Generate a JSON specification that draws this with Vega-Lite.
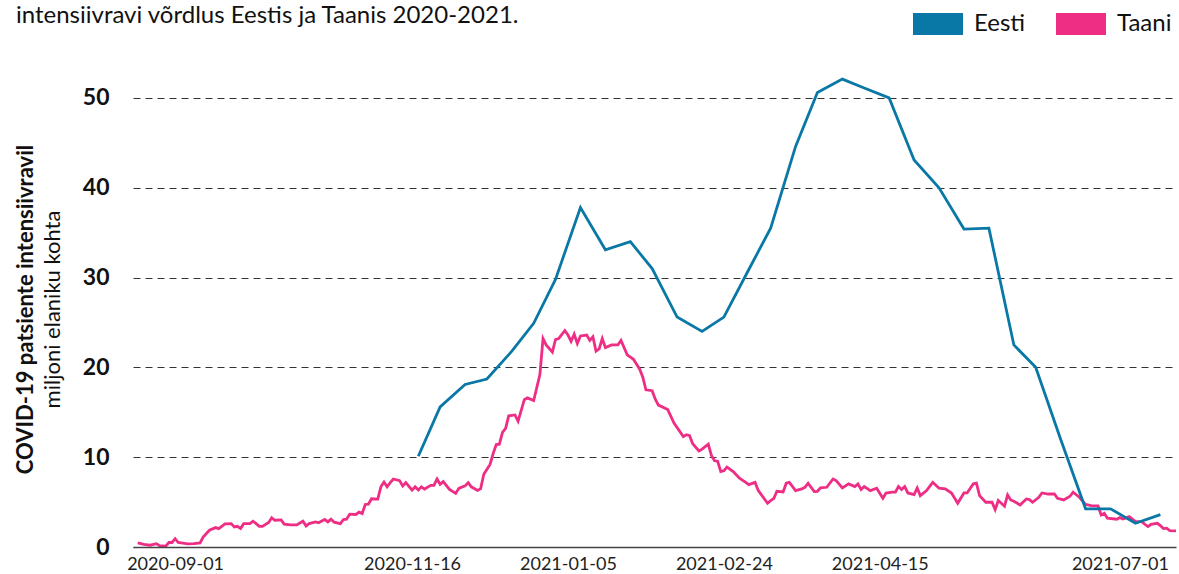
{
  "$schema": "https://vega.github.io/schema/vega-lite/v6.json",
  "width": 1043,
  "height": 476,
  "autosize": {"type": "none"},
  "padding": {"left": 133, "top": 71, "right": 3, "bottom": 27},
  "background": "#ffffff",
  "config": {"view": {"stroke": null}, "font": "Lato"},
  "title": {"text": "intensiivravi võrdlus Eestis ja Taanis 2020-2021.", "anchor": "start", "frame": "group", "baseline": "alphabetic", "fontSize": 24, "font": "Lato", "fontWeight": "normal", "color": "#111111", "offset": 0, "dx": -117, "dy": 48},
  "data": {"values": [
    {"date": "2020-08-20", "country": "Taani", "value": 0.45},
    {"date": "2020-08-22", "country": "Taani", "value": 0.3},
    {"date": "2020-08-24", "country": "Taani", "value": 0.2},
    {"date": "2020-08-26", "country": "Taani", "value": 0.37},
    {"date": "2020-08-27", "country": "Taani", "value": 0.15},
    {"date": "2020-08-29", "country": "Taani", "value": 0.1},
    {"date": "2020-08-30", "country": "Taani", "value": 0.5},
    {"date": "2020-08-31", "country": "Taani", "value": 0.5},
    {"date": "2020-09-01", "country": "Taani", "value": 0.93},
    {"date": "2020-09-02", "country": "Taani", "value": 0.5},
    {"date": "2020-09-03", "country": "Taani", "value": 0.45},
    {"date": "2020-09-05", "country": "Taani", "value": 0.34},
    {"date": "2020-09-07", "country": "Taani", "value": 0.37},
    {"date": "2020-09-09", "country": "Taani", "value": 0.45},
    {"date": "2020-09-10", "country": "Taani", "value": 1.1},
    {"date": "2020-09-12", "country": "Taani", "value": 1.87},
    {"date": "2020-09-14", "country": "Taani", "value": 2.16},
    {"date": "2020-09-15", "country": "Taani", "value": 2.05},
    {"date": "2020-09-17", "country": "Taani", "value": 2.57},
    {"date": "2020-09-19", "country": "Taani", "value": 2.6},
    {"date": "2020-09-20", "country": "Taani", "value": 2.24},
    {"date": "2020-09-21", "country": "Taani", "value": 2.3},
    {"date": "2020-09-22", "country": "Taani", "value": 2.05},
    {"date": "2020-09-23", "country": "Taani", "value": 2.6},
    {"date": "2020-09-25", "country": "Taani", "value": 2.6},
    {"date": "2020-09-26", "country": "Taani", "value": 2.87},
    {"date": "2020-09-27", "country": "Taani", "value": 2.6},
    {"date": "2020-09-28", "country": "Taani", "value": 2.3},
    {"date": "2020-09-29", "country": "Taani", "value": 2.3},
    {"date": "2020-10-01", "country": "Taani", "value": 2.72},
    {"date": "2020-10-02", "country": "Taani", "value": 3.25},
    {"date": "2020-10-03", "country": "Taani", "value": 2.98},
    {"date": "2020-10-05", "country": "Taani", "value": 3.02},
    {"date": "2020-10-06", "country": "Taani", "value": 2.54},
    {"date": "2020-10-08", "country": "Taani", "value": 2.46},
    {"date": "2020-10-10", "country": "Taani", "value": 2.46},
    {"date": "2020-10-12", "country": "Taani", "value": 2.87},
    {"date": "2020-10-13", "country": "Taani", "value": 2.35},
    {"date": "2020-10-14", "country": "Taani", "value": 2.6},
    {"date": "2020-10-16", "country": "Taani", "value": 2.8},
    {"date": "2020-10-17", "country": "Taani", "value": 2.69},
    {"date": "2020-10-19", "country": "Taani", "value": 3.06},
    {"date": "2020-10-20", "country": "Taani", "value": 2.8},
    {"date": "2020-10-21", "country": "Taani", "value": 3.1},
    {"date": "2020-10-22", "country": "Taani", "value": 2.76},
    {"date": "2020-10-24", "country": "Taani", "value": 2.6},
    {"date": "2020-10-25", "country": "Taani", "value": 3.06},
    {"date": "2020-10-26", "country": "Taani", "value": 3.1},
    {"date": "2020-10-27", "country": "Taani", "value": 3.66},
    {"date": "2020-10-29", "country": "Taani", "value": 3.62},
    {"date": "2020-10-30", "country": "Taani", "value": 3.88},
    {"date": "2020-10-31", "country": "Taani", "value": 3.73},
    {"date": "2020-11-01", "country": "Taani", "value": 4.74},
    {"date": "2020-11-02", "country": "Taani", "value": 4.78},
    {"date": "2020-11-03", "country": "Taani", "value": 5.37},
    {"date": "2020-11-05", "country": "Taani", "value": 5.34},
    {"date": "2020-11-06", "country": "Taani", "value": 6.7},
    {"date": "2020-11-07", "country": "Taani", "value": 7.24},
    {"date": "2020-11-08", "country": "Taani", "value": 6.7},
    {"date": "2020-11-09", "country": "Taani", "value": 7.16},
    {"date": "2020-11-10", "country": "Taani", "value": 7.57},
    {"date": "2020-11-12", "country": "Taani", "value": 7.39},
    {"date": "2020-11-13", "country": "Taani", "value": 6.8},
    {"date": "2020-11-14", "country": "Taani", "value": 7.16},
    {"date": "2020-11-16", "country": "Taani", "value": 6.34},
    {"date": "2020-11-17", "country": "Taani", "value": 6.7},
    {"date": "2020-11-18", "country": "Taani", "value": 6.34},
    {"date": "2020-11-19", "country": "Taani", "value": 6.7},
    {"date": "2020-11-20", "country": "Taani", "value": 6.45},
    {"date": "2020-11-22", "country": "Taani", "value": 6.87},
    {"date": "2020-11-23", "country": "Taani", "value": 6.87},
    {"date": "2020-11-24", "country": "Taani", "value": 7.57},
    {"date": "2020-11-25", "country": "Taani", "value": 6.98},
    {"date": "2020-11-26", "country": "Taani", "value": 7.28},
    {"date": "2020-11-28", "country": "Taani", "value": 6.42},
    {"date": "2020-11-30", "country": "Taani", "value": 5.97},
    {"date": "2020-12-01", "country": "Taani", "value": 6.53},
    {"date": "2020-12-03", "country": "Taani", "value": 6.8},
    {"date": "2020-12-04", "country": "Taani", "value": 7.16},
    {"date": "2020-12-05", "country": "Taani", "value": 6.7},
    {"date": "2020-12-07", "country": "Taani", "value": 6.3},
    {"date": "2020-12-08", "country": "Taani", "value": 6.5},
    {"date": "2020-12-09", "country": "Taani", "value": 8.1},
    {"date": "2020-12-11", "country": "Taani", "value": 9.2},
    {"date": "2020-12-12", "country": "Taani", "value": 10.4},
    {"date": "2020-12-13", "country": "Taani", "value": 11.4},
    {"date": "2020-12-14", "country": "Taani", "value": 11.45},
    {"date": "2020-12-15", "country": "Taani", "value": 12.76},
    {"date": "2020-12-16", "country": "Taani", "value": 13.2},
    {"date": "2020-12-17", "country": "Taani", "value": 14.6},
    {"date": "2020-12-19", "country": "Taani", "value": 14.7},
    {"date": "2020-12-20", "country": "Taani", "value": 14.0},
    {"date": "2020-12-22", "country": "Taani", "value": 16.4},
    {"date": "2020-12-23", "country": "Taani", "value": 16.6},
    {"date": "2020-12-25", "country": "Taani", "value": 16.3},
    {"date": "2020-12-27", "country": "Taani", "value": 19.2},
    {"date": "2020-12-28", "country": "Taani", "value": 23.2},
    {"date": "2020-12-29", "country": "Taani", "value": 22.5},
    {"date": "2020-12-31", "country": "Taani", "value": 21.7},
    {"date": "2021-01-01", "country": "Taani", "value": 23.1},
    {"date": "2021-01-02", "country": "Taani", "value": 23.2},
    {"date": "2021-01-04", "country": "Taani", "value": 24.1},
    {"date": "2021-01-05", "country": "Taani", "value": 23.6},
    {"date": "2021-01-06", "country": "Taani", "value": 22.9},
    {"date": "2021-01-07", "country": "Taani", "value": 23.7},
    {"date": "2021-01-08", "country": "Taani", "value": 22.65},
    {"date": "2021-01-09", "country": "Taani", "value": 23.5},
    {"date": "2021-01-11", "country": "Taani", "value": 23.6},
    {"date": "2021-01-12", "country": "Taani", "value": 23.0},
    {"date": "2021-01-13", "country": "Taani", "value": 23.4},
    {"date": "2021-01-14", "country": "Taani", "value": 21.8},
    {"date": "2021-01-15", "country": "Taani", "value": 22.05},
    {"date": "2021-01-16", "country": "Taani", "value": 23.2},
    {"date": "2021-01-17", "country": "Taani", "value": 22.2},
    {"date": "2021-01-19", "country": "Taani", "value": 22.5},
    {"date": "2021-01-21", "country": "Taani", "value": 22.5},
    {"date": "2021-01-22", "country": "Taani", "value": 23.0},
    {"date": "2021-01-24", "country": "Taani", "value": 21.4},
    {"date": "2021-01-26", "country": "Taani", "value": 20.9},
    {"date": "2021-01-28", "country": "Taani", "value": 19.8},
    {"date": "2021-01-29", "country": "Taani", "value": 18.9},
    {"date": "2021-01-30", "country": "Taani", "value": 17.5},
    {"date": "2021-02-01", "country": "Taani", "value": 17.4},
    {"date": "2021-02-02", "country": "Taani", "value": 16.45},
    {"date": "2021-02-03", "country": "Taani", "value": 15.8},
    {"date": "2021-02-06", "country": "Taani", "value": 15.3},
    {"date": "2021-02-08", "country": "Taani", "value": 13.8},
    {"date": "2021-02-11", "country": "Taani", "value": 12.3},
    {"date": "2021-02-12", "country": "Taani", "value": 12.5},
    {"date": "2021-02-13", "country": "Taani", "value": 12.4},
    {"date": "2021-02-14", "country": "Taani", "value": 11.5},
    {"date": "2021-02-16", "country": "Taani", "value": 10.7},
    {"date": "2021-02-17", "country": "Taani", "value": 10.9},
    {"date": "2021-02-19", "country": "Taani", "value": 11.45},
    {"date": "2021-02-20", "country": "Taani", "value": 10.2},
    {"date": "2021-02-21", "country": "Taani", "value": 9.6},
    {"date": "2021-02-22", "country": "Taani", "value": 9.55},
    {"date": "2021-02-23", "country": "Taani", "value": 8.4},
    {"date": "2021-02-24", "country": "Taani", "value": 8.5},
    {"date": "2021-02-25", "country": "Taani", "value": 8.9},
    {"date": "2021-02-27", "country": "Taani", "value": 8.4},
    {"date": "2021-03-01", "country": "Taani", "value": 7.65},
    {"date": "2021-03-03", "country": "Taani", "value": 7.2},
    {"date": "2021-03-04", "country": "Taani", "value": 6.95},
    {"date": "2021-03-06", "country": "Taani", "value": 7.2},
    {"date": "2021-03-07", "country": "Taani", "value": 6.3},
    {"date": "2021-03-10", "country": "Taani", "value": 4.87},
    {"date": "2021-03-11", "country": "Taani", "value": 5.17},
    {"date": "2021-03-12", "country": "Taani", "value": 5.4},
    {"date": "2021-03-13", "country": "Taani", "value": 6.2},
    {"date": "2021-03-15", "country": "Taani", "value": 6.13},
    {"date": "2021-03-16", "country": "Taani", "value": 7.1},
    {"date": "2021-03-17", "country": "Taani", "value": 7.2},
    {"date": "2021-03-19", "country": "Taani", "value": 6.28},
    {"date": "2021-03-21", "country": "Taani", "value": 6.47},
    {"date": "2021-03-22", "country": "Taani", "value": 6.65},
    {"date": "2021-03-23", "country": "Taani", "value": 7.1},
    {"date": "2021-03-25", "country": "Taani", "value": 6.17},
    {"date": "2021-03-26", "country": "Taani", "value": 6.2},
    {"date": "2021-03-27", "country": "Taani", "value": 6.58},
    {"date": "2021-03-29", "country": "Taani", "value": 6.65},
    {"date": "2021-03-31", "country": "Taani", "value": 7.58},
    {"date": "2021-04-01", "country": "Taani", "value": 7.4},
    {"date": "2021-04-03", "country": "Taani", "value": 6.58},
    {"date": "2021-04-05", "country": "Taani", "value": 7.03},
    {"date": "2021-04-07", "country": "Taani", "value": 6.73},
    {"date": "2021-04-08", "country": "Taani", "value": 7.03},
    {"date": "2021-04-09", "country": "Taani", "value": 6.4},
    {"date": "2021-04-10", "country": "Taani", "value": 6.73},
    {"date": "2021-04-12", "country": "Taani", "value": 6.28},
    {"date": "2021-04-14", "country": "Taani", "value": 6.54},
    {"date": "2021-04-16", "country": "Taani", "value": 5.43},
    {"date": "2021-04-17", "country": "Taani", "value": 6.0},
    {"date": "2021-04-19", "country": "Taani", "value": 6.1},
    {"date": "2021-04-20", "country": "Taani", "value": 6.1},
    {"date": "2021-04-21", "country": "Taani", "value": 6.73},
    {"date": "2021-04-22", "country": "Taani", "value": 6.4},
    {"date": "2021-04-23", "country": "Taani", "value": 6.73},
    {"date": "2021-04-24", "country": "Taani", "value": 6.02},
    {"date": "2021-04-26", "country": "Taani", "value": 5.84},
    {"date": "2021-04-27", "country": "Taani", "value": 6.58},
    {"date": "2021-04-28", "country": "Taani", "value": 5.72},
    {"date": "2021-04-30", "country": "Taani", "value": 6.28},
    {"date": "2021-05-02", "country": "Taani", "value": 7.2},
    {"date": "2021-05-04", "country": "Taani", "value": 6.54},
    {"date": "2021-05-06", "country": "Taani", "value": 6.47},
    {"date": "2021-05-08", "country": "Taani", "value": 6.0},
    {"date": "2021-05-10", "country": "Taani", "value": 4.87},
    {"date": "2021-05-12", "country": "Taani", "value": 6.02},
    {"date": "2021-05-13", "country": "Taani", "value": 6.02},
    {"date": "2021-05-15", "country": "Taani", "value": 7.03},
    {"date": "2021-05-16", "country": "Taani", "value": 7.1},
    {"date": "2021-05-17", "country": "Taani", "value": 5.72},
    {"date": "2021-05-19", "country": "Taani", "value": 4.98},
    {"date": "2021-05-21", "country": "Taani", "value": 4.98},
    {"date": "2021-05-22", "country": "Taani", "value": 4.16},
    {"date": "2021-05-23", "country": "Taani", "value": 5.17},
    {"date": "2021-05-25", "country": "Taani", "value": 4.54},
    {"date": "2021-05-26", "country": "Taani", "value": 5.8},
    {"date": "2021-05-27", "country": "Taani", "value": 5.24},
    {"date": "2021-05-28", "country": "Taani", "value": 5.1},
    {"date": "2021-05-30", "country": "Taani", "value": 4.68},
    {"date": "2021-06-01", "country": "Taani", "value": 5.35},
    {"date": "2021-06-02", "country": "Taani", "value": 5.28},
    {"date": "2021-06-03", "country": "Taani", "value": 4.98},
    {"date": "2021-06-05", "country": "Taani", "value": 5.54},
    {"date": "2021-06-06", "country": "Taani", "value": 6.02},
    {"date": "2021-06-08", "country": "Taani", "value": 5.9},
    {"date": "2021-06-10", "country": "Taani", "value": 5.9},
    {"date": "2021-06-11", "country": "Taani", "value": 5.43},
    {"date": "2021-06-13", "country": "Taani", "value": 5.24},
    {"date": "2021-06-15", "country": "Taani", "value": 5.65},
    {"date": "2021-06-16", "country": "Taani", "value": 6.1},
    {"date": "2021-06-18", "country": "Taani", "value": 5.54},
    {"date": "2021-06-20", "country": "Taani", "value": 4.75},
    {"date": "2021-06-22", "country": "Taani", "value": 4.57},
    {"date": "2021-06-24", "country": "Taani", "value": 4.57},
    {"date": "2021-06-25", "country": "Taani", "value": 3.57},
    {"date": "2021-06-26", "country": "Taani", "value": 3.75},
    {"date": "2021-06-27", "country": "Taani", "value": 3.2},
    {"date": "2021-06-30", "country": "Taani", "value": 3.09},
    {"date": "2021-07-01", "country": "Taani", "value": 3.27},
    {"date": "2021-07-02", "country": "Taani", "value": 3.12},
    {"date": "2021-07-04", "country": "Taani", "value": 3.38},
    {"date": "2021-07-06", "country": "Taani", "value": 2.83},
    {"date": "2021-07-08", "country": "Taani", "value": 2.83},
    {"date": "2021-07-09", "country": "Taani", "value": 2.53},
    {"date": "2021-07-10", "country": "Taani", "value": 2.27},
    {"date": "2021-07-11", "country": "Taani", "value": 2.53},
    {"date": "2021-07-13", "country": "Taani", "value": 2.64},
    {"date": "2021-07-14", "country": "Taani", "value": 2.38},
    {"date": "2021-07-15", "country": "Taani", "value": 2.05},
    {"date": "2021-07-16", "country": "Taani", "value": 2.09},
    {"date": "2021-07-17", "country": "Taani", "value": 1.82},
    {"date": "2021-07-19", "country": "Taani", "value": 1.8},
    {"date": "2020-11-18", "country": "Eesti", "value": 10.1},
    {"date": "2020-11-25", "country": "Eesti", "value": 15.6},
    {"date": "2020-12-03", "country": "Eesti", "value": 18.1},
    {"date": "2020-12-10", "country": "Eesti", "value": 18.7},
    {"date": "2020-12-18", "country": "Eesti", "value": 21.8},
    {"date": "2020-12-25", "country": "Eesti", "value": 24.9},
    {"date": "2021-01-01", "country": "Eesti", "value": 29.8},
    {"date": "2021-01-09", "country": "Eesti", "value": 37.8},
    {"date": "2021-01-17", "country": "Eesti", "value": 33.1},
    {"date": "2021-01-25", "country": "Eesti", "value": 34.0},
    {"date": "2021-02-01", "country": "Eesti", "value": 31.0},
    {"date": "2021-02-09", "country": "Eesti", "value": 25.6},
    {"date": "2021-02-17", "country": "Eesti", "value": 24.0},
    {"date": "2021-02-24", "country": "Eesti", "value": 25.6},
    {"date": "2021-03-04", "country": "Eesti", "value": 30.9},
    {"date": "2021-03-11", "country": "Eesti", "value": 35.5},
    {"date": "2021-03-19", "country": "Eesti", "value": 44.6},
    {"date": "2021-03-26", "country": "Eesti", "value": 50.6},
    {"date": "2021-04-03", "country": "Eesti", "value": 52.1},
    {"date": "2021-04-10", "country": "Eesti", "value": 51.1},
    {"date": "2021-04-18", "country": "Eesti", "value": 50.0},
    {"date": "2021-04-26", "country": "Eesti", "value": 43.1},
    {"date": "2021-05-04", "country": "Eesti", "value": 40.0},
    {"date": "2021-05-12", "country": "Eesti", "value": 35.4},
    {"date": "2021-05-20", "country": "Eesti", "value": 35.5},
    {"date": "2021-05-28", "country": "Eesti", "value": 22.5},
    {"date": "2021-06-04", "country": "Eesti", "value": 20.0},
    {"date": "2021-06-12", "country": "Eesti", "value": 12.0},
    {"date": "2021-06-20", "country": "Eesti", "value": 4.25},
    {"date": "2021-06-28", "country": "Eesti", "value": 4.25},
    {"date": "2021-07-06", "country": "Eesti", "value": 2.65},
    {"date": "2021-07-14", "country": "Eesti", "value": 3.6}
  ]},
  "encoding": {
    "x": {
      "field": "date", "type": "temporal",
      "scale": {"type": "utc", "domain": [{"year": 2020, "month": 8, "date": 18, "hours": 12, "utc": true}, {"year": 2021, "month": 7, "date": 19, "utc": true}]},
      "axis": {
        "values": [
          {"year": 2020, "month": 9, "date": 1, "utc": true},
          {"year": 2020, "month": 11, "date": 16, "utc": true},
          {"year": 2021, "month": 1, "date": 5, "utc": true},
          {"year": 2021, "month": 2, "date": 24, "utc": true},
          {"year": 2021, "month": 4, "date": 15, "utc": true},
          {"year": 2021, "month": 7, "date": 1, "utc": true}
        ],
        "format": "%Y-%m-%d", "title": null, "grid": false, "ticks": false,
        "labelFont": "Lato", "labelFontSize": 18, "labelColor": "#222222", "labelPadding": 8,
        "labelOverlap": false, "labelFlush": false,
        "domainColor": "#444444", "domainWidth": 1.5, "zindex": 1
      }
    }
  },
  "layer": [
    {
      "mark": {"type": "line", "strokeWidth": 2.8, "interpolate": "linear"},
      "encoding": {
        "y": {
          "field": "value", "type": "quantitative",
          "scale": {"domain": [0, 53], "nice": false},
          "axis": {
            "orient": "left", "values": [0, 10, 20, 30, 40, 50],
            "grid": true, "gridDash": [7, 5], "gridColor": "#333333", "gridWidth": 1,
            "domain": false, "ticks": false,
            "labelFont": "Lato", "labelFontSize": 23, "labelFontWeight": "bold", "labelColor": "#111111", "labelPadding": 24,
            "title": "COVID-19 patsiente intensiivravil", "titleFont": "Lato", "titleFontSize": 22, "titleFontWeight": "bold", "titleColor": "#111111", "titlePadding": 45
          }
        },
        "color": {
          "field": "country", "type": "nominal",
          "scale": {"domain": ["Eesti", "Taani"], "range": ["#0a78a6", "#ee2d85"]},
          "legend": {
            "orient": "none", "legendX": 780, "legendY": -72, "direction": "horizontal", "title": null,
            "symbolType": "M-1,-0.44L1,-0.44L1,0.44L-1,0.44Z", "symbolSize": 2500, "symbolStrokeWidth": 0, "symbolOpacity": 1,
            "labelFont": "Lato", "labelFontSize": 24, "labelColor": "#111111", "labelOffset": 11, "columnPadding": 30, "padding": 0,
            "encode": {"symbols": {"update": {"fill": {"scale": "color", "field": "value"}, "strokeWidth": {"value": 0}}}}
          }
        }
      }
    },
    {
      "mark": {"type": "line", "strokeOpacity": 0, "strokeWidth": 0},
      "encoding": {
        "detail": {"field": "country", "type": "nominal"},
        "y": {
          "field": "value", "type": "quantitative",
          "axis": {
            "orient": "left", "labels": false, "grid": false, "domain": false, "ticks": false,
            "title": "miljoni elaniku kohta", "titleFont": "Lato", "titleFontSize": 22, "titleFontWeight": "normal", "titleColor": "#111111", "titlePadding": 69
          }
        }
      }
    }
  ],
  "resolve": {"axis": {"y": "independent"}}
}
